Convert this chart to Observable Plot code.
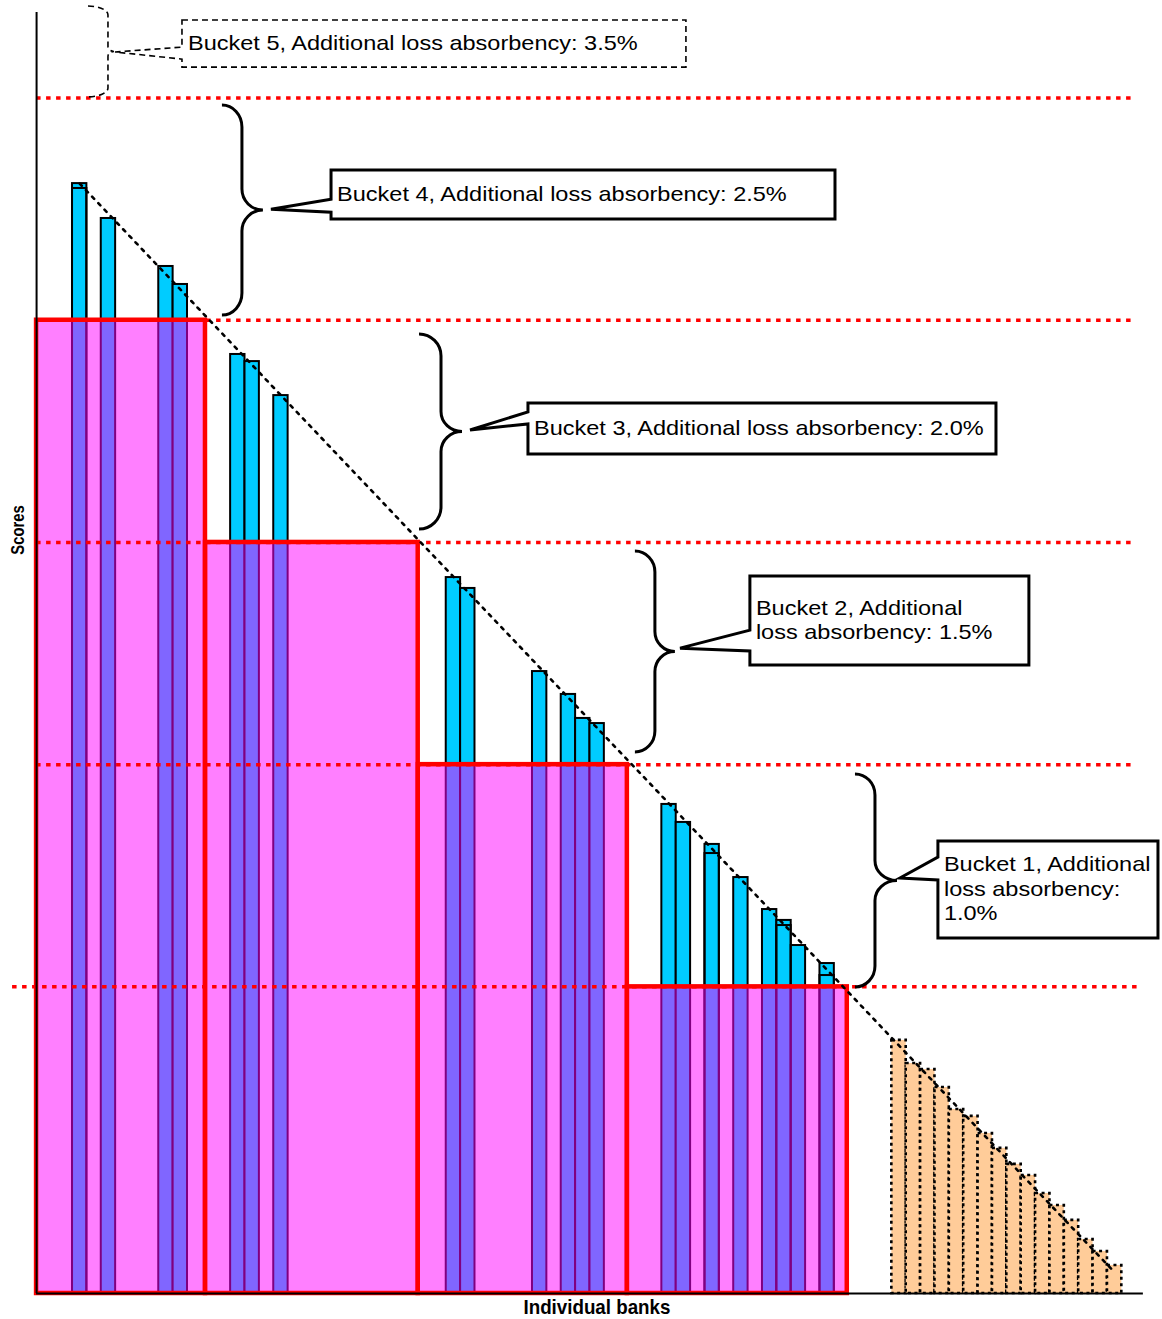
<!DOCTYPE html>
<html><head><meta charset="utf-8">
<script src="https://cdn.jsdelivr.net/npm/d3@7"></script>
<script src="https://cdn.jsdelivr.net/npm/@observablehq/plot@0.6"></script>
<style>html,body{margin:0;padding:0;background:#fff;} #chart svg{display:block;}</style>
</head><body><div id="chart"></div>
<script>
// ---------------- DATA ----------------
// Banks scoring above the cut-off (bank position along x, score)
const banksAbove  = [2, 4, 8, 9, 13, 14, 16, 28, 29, 34, 36, 37, 38, 43, 44, 46, 48, 50, 51, 52, 54];
const scoresAbove = [499.5, 483.8, 462.2, 454.1, 422.6, 419.4, 404.1, 322.2, 317.3, 279.9, 269.6, 258.8, 256.5,
                     220.1, 212.0, 202.1, 187.2, 172.8, 167.9, 156.6, 148.5];
// Secondary (inner) score marks seen on a few bars
const banksInner  = [2, 46, 51, 54];
const scoresInner = [497.3, 198.0, 165.6, 143.1];
// Banks scoring below the cut-off
const banksBelow  = [59, 60, 61, 62, 63, 64, 65, 66, 67, 68, 69, 70, 71, 72, 73, 74];
const scoresBelow = [113.9, 103.5, 100.8, 92.7, 82.8, 79.7, 72.0, 65.3, 58.1, 53.1, 45.0, 39.6, 32.9, 24.3, 18.9, 12.6];
// Buckets
const bucketIds       = [1, 2, 3, 4, 5];
const bucketFloor     = [138, 238, 338, 438, 538];
const bucketLoss      = ["1.0%", "1.5%", "2.0%", "2.5%", "3.5%"];
const bucketBankStart = [40.6, 26.05, 11.25, -0.5];
const bucketBankEnd   = [55.9, 40.6, 26.05, 11.25];
// Trend (dotted diagonal) end points
const trendBanks  = [2.5, 74.5];
const trendScores = [499.5, 9.5];
// Text
const xLabel = "Individual banks";
const yLabel = "Scores";
const labelBreaks = [["Bucket 1, Additional", "loss absorbency:", "1.0%"], ["Bucket 2, Additional", "loss absorbency: 1.5%"], null, null, null];

// ---------------- LAYOUT (positions in data units) ----------------
const thresholdSpan = [[-2.17, 76.16], [-0.5, 75.74], [-0.5, 75.74], [-0.5, 75.74], [-0.5, 75.74]];
const axisSpan = {xEnd: 76.5, yTop: 576.5, x0: -0.5};
const braceLayout = [
  {bank: 56.47, top: 233.6, bottom: 137.7, reach: 20, point: 22, r: 21, rm: 20},
  {bank: 41.16, top: 333.9, bottom: 243.5, reach: 20, point: 20, r: 21, rm: 20},
  {bank: 26.14, top: 431.6, bottom: 343.8, reach: 22, point: 21, r: 22, rm: 20},
  {bank: 12.43, top: 534.6, bottom: 440.1, reach: 20, point: 21, r: 22, rm: 21},
  {bank: 3.11,  top: 579.2, bottom: 538.3, reach: 20, point: 6,  r: 9,  rm: 5, dashed: true}
];
const calloutLayout = [
  {x0: 62.24, x1: 77.55, top: 203.4, bottom: 159.8, tipX: 59.6,  tipY: 186.8, a0: 196.2, a1: 185.9},
  {x0: 49.16, x1: 68.57, top: 322.7, bottom: 282.6, tipX: 44.3,  tipY: 290.2, a0: 298.3, a1: 288.9},
  {x0: 33.72, x1: 66.28, top: 400.5, bottom: 377.6, tipX: 29.69, tipY: 388.4, a0: 396.5, a1: 391.1},
  {x0: 20.02, x1: 55.08, top: 505.4, bottom: 483.3, tipX: 15.84, tipY: 487.7, a0: 492.2, a1: 486.4},
  {x0: 9.65,  x1: 44.71, top: 572.9, bottom: 551.7, tipX: 4.99,  tipY: 558.5, a0: 560.7, a1: 555.3, dashed: true}
];
const axisLabelPos = {x: {bank: 38.52, score: -9.45}, y: {bank: -1.76, score: 343.4}};

// ---------------- BUILD TABLES ----------------
const above = banksAbove.map((b, i) => ({bank: b, score: scoresAbove[i]}));
const inner = banksInner.map((b, i) => ({bank: b, score: scoresInner[i]}));
const below = banksBelow.map((b, i) => ({bank: b, score: scoresBelow[i]}));
const boxes = bucketBankStart.map((s, i) => ({start: s, end: bucketBankEnd[i], floor: bucketFloor[i]}));
const thresholds = bucketFloor.map((f, i) => ({floor: f, from: thresholdSpan[i][0], to: thresholdSpan[i][1]}));
const trend = trendBanks.map((b, i) => ({bank: b, score: trendScores[i]}));
const buckets = bucketIds.map((id, i) => ({
  id,
  lines: labelBreaks[i] || [`Bucket ${id}, Additional loss absorbency: ${bucketLoss[i]}`],
  brace: braceLayout[i],
  callout: calloutLayout[i]
}));

const FONT = "'Liberation Sans', Arial, Helvetica, sans-serif";
const K = 0.552;

function annotations(index, scales) {
  const x = scales.x, y = scales.y;
  const g = d3.create("svg:g").attr("text-anchor", "start");
  for (const b of buckets) {
    // brace
    const br = b.brace;
    const x0 = x(br.bank), xv = x0 + br.reach, xp = xv + br.point;
    const yt = y(br.top), yb = y(br.bottom), ym = (yt + yb) / 2;
    const w = br.reach, r = br.r, rm = br.rm, p = br.point;
    const d = `M${x0},${yt}` +
      `C${x0 + K * w},${yt} ${xv},${yt + r - K * r} ${xv},${yt + r}` +
      `L${xv},${ym - rm}` +
      `C${xv},${ym - rm + K * rm} ${xp - K * p},${ym} ${xp},${ym}` +
      `C${xp - K * p},${ym} ${xv},${ym + rm - K * rm} ${xv},${ym + rm}` +
      `L${xv},${yb - r}` +
      `C${xv},${yb - r + K * r} ${x0 + K * w},${yb} ${x0},${yb}`;
    g.append("path").attr("d", d).attr("fill", "none").attr("stroke", "#000")
      .attr("stroke-width", br.dashed ? 1.6 : 3)
      .attr("stroke-dasharray", br.dashed ? "6,4" : null);
    // callout
    const c = b.callout;
    const cx0 = x(c.x0), cx1 = x(c.x1), cy0 = y(c.top), cy1 = y(c.bottom);
    const cp = `M${cx0},${cy0}H${cx1}V${cy1}H${cx0}V${y(c.a1)}L${x(c.tipX)},${y(c.tipY)}L${cx0},${y(c.a0)}Z`;
    g.append("path").attr("d", cp).attr("fill", "#fff").attr("stroke", "#000")
      .attr("stroke-width", c.dashed ? 1.6 : 3)
      .attr("stroke-dasharray", c.dashed ? "6,4" : null)
      .attr("stroke-linejoin", "miter");
    const lh = 24.5, n = b.lines.length;
    const base0 = cy0 + ((cy1 - cy0) - n * lh) / 2 + 18.5;
    b.lines.forEach((line, j) => {
      g.append("text")
        .attr("transform", `translate(${cx0 + 6},${base0 + j * lh}) scale(1.176,1)`)
        .attr("text-anchor", "start")
        .attr("font-family", FONT).attr("font-size", 20).attr("fill", "#000")
        .text(line);
    });
  }
  // axis labels
  g.append("text")
    .attr("transform", `translate(${x(axisLabelPos.x.bank)},${y(axisLabelPos.x.score)}) scale(0.963,1)`)
    .attr("text-anchor", "middle").attr("font-family", FONT).attr("font-weight", "bold")
    .attr("font-size", 19.5).text(xLabel);
  g.append("text")
    .attr("transform", `translate(${x(axisLabelPos.y.bank) + 6.5},${y(axisLabelPos.y.score)}) scale(1,0.8) rotate(-90)`)
    .attr("text-anchor", "middle").attr("font-family", FONT).attr("font-weight", "bold")
    .attr("font-size", 18.5).text(yLabel);
  return g.node();
}

const chart = Plot.plot({
  width: 1162, height: 1319,
  marginLeft: 0, marginRight: 0, marginTop: 0, marginBottom: 26,
  x: {domain: [-3.01, 77.83], axis: null},
  y: {domain: [0, 581.9], axis: null},
  style: {background: "#fff", fontFamily: FONT},
  marks: [
    Plot.rect(below, {x1: "bank", x2: d => d.bank + 1, y1: 0, y2: "score",
      fill: "#FFCC99", stroke: "#000", strokeWidth: 2.6, strokeDasharray: "3,3.5"}),
    Plot.rect(above, {x1: "bank", x2: d => d.bank + 1, y1: 0, y2: "score",
      fill: "#00CCFF", stroke: "#000", strokeWidth: 2}),
    Plot.rect(inner, {x1: "bank", x2: d => d.bank + 1, y1: 0, y2: "score",
      fill: "none", stroke: "#000", strokeWidth: 2}),
    Plot.rect(boxes, {x1: "start", x2: "end", y1: 0, y2: "floor",
      fill: "#FF00FF", fillOpacity: 0.5, stroke: "#FF0000", strokeWidth: 4.5}),
    Plot.ruleY(thresholds, {y: "floor", x1: "from", x2: "to",
      stroke: "#FF0000", strokeWidth: 3.5, strokeDasharray: "4.5,5.5"}),
    Plot.line(trend, {x: "bank", y: "score", stroke: "#000", strokeWidth: 2.6, strokeDasharray: "3,6"}),
    Plot.ruleX([axisSpan.x0], {y1: 0, y2: axisSpan.yTop, stroke: "#000", strokeWidth: 2}),
    Plot.ruleY([0], {x1: axisSpan.x0, x2: axisSpan.xEnd, stroke: "#000", strokeWidth: 2}),
    annotations
  ]
});
document.getElementById("chart").append(chart);
</script></body></html>
